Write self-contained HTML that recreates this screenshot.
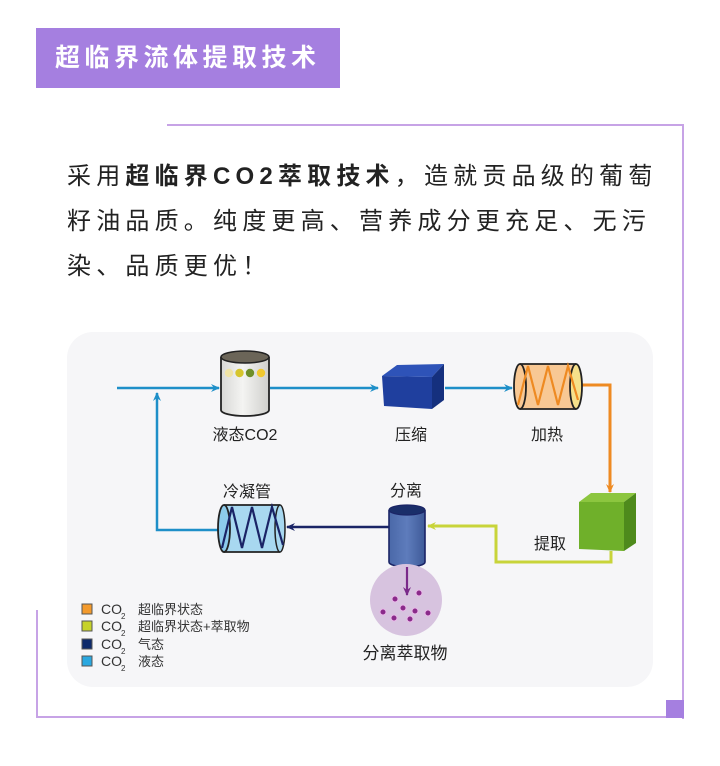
<!DOCTYPE html>
<html><head><meta charset="utf-8">
<style>
html,body{margin:0;padding:0;background:#fff;}
body{width:720px;height:766px;position:relative;overflow:hidden;font-family:"Liberation Sans","Noto Sans CJK SC",sans-serif;}
.title{position:absolute;left:36px;top:28px;width:304px;height:60px;background:#a57fe0;color:#fff;font-weight:bold;font-size:25px;line-height:60px;text-indent:19px;letter-spacing:4.5px;white-space:nowrap;overflow:hidden;}
.ln{position:absolute;background:#c7a3e6;}
.p{position:absolute;left:67px;font-size:24px;color:#222;white-space:nowrap;line-height:30px;}
</style></head><body>
<div class="title">超临界流体提取技术</div>
<div class="ln" style="left:167px;top:124px;width:517px;height:2px;"></div>
<div class="ln" style="left:682px;top:124px;width:2px;height:595px;"></div>
<div class="ln" style="left:36px;top:716px;width:648px;height:2px;"></div>
<div class="ln" style="left:36px;top:610px;width:2px;height:108px;"></div>
<div style="position:absolute;left:666px;top:700px;width:18px;height:18px;background:#a57fe0;"></div>

<div class="p" style="top:162px;letter-spacing:5.2px;">采用<b>超临界CO2萃取技术</b>，造就贡品级的葡萄</div>
<div class="p" style="top:207px;letter-spacing:5.2px;">籽油品质。纯度更高、营养成分更充足、无污</div>
<div class="p" style="top:252px;letter-spacing:5.2px;">染、品质更优！</div>

<svg width="720" height="766" style="position:absolute;left:0;top:0;" xmlns="http://www.w3.org/2000/svg">
<defs>
<linearGradient id="cyl" x1="0" x2="1" y1="0" y2="0">
<stop offset="0" stop-color="#d8d8d6"/><stop offset="0.45" stop-color="#f4f4f2"/><stop offset="1" stop-color="#cfcfcc"/>
</linearGradient>
<linearGradient id="sep" x1="0" x2="1"><stop offset="0" stop-color="#4a68a8"/><stop offset="0.5" stop-color="#5e7cbc"/><stop offset="1" stop-color="#3e5a98"/></linearGradient>
<marker id="ab" markerWidth="10" markerHeight="10" refX="8" refY="5" orient="auto" markerUnits="userSpaceOnUse"><path d="M0,1 L9,5 L0,9 L3,5 Z" fill="#1e8fc8"/></marker>
<marker id="an" markerWidth="10" markerHeight="10" refX="8" refY="5" orient="auto" markerUnits="userSpaceOnUse"><path d="M0,1 L9,5 L0,9 L3,5 Z" fill="#1a2466"/></marker>
<marker id="ao" markerWidth="10" markerHeight="10" refX="8" refY="5" orient="auto" markerUnits="userSpaceOnUse"><path d="M0,1 L9,5 L0,9 L3,5 Z" fill="#ee8a22"/></marker>
<marker id="ay" markerWidth="10" markerHeight="10" refX="8" refY="5" orient="auto" markerUnits="userSpaceOnUse"><path d="M0,1 L9,5 L0,9 L3,5 Z" fill="#c8d43a"/></marker>
<marker id="ap" markerWidth="10" markerHeight="10" refX="8" refY="5" orient="auto" markerUnits="userSpaceOnUse"><path d="M0,1 L9,5 L0,9 L3,5 Z" fill="#7a2a8a"/></marker>
</defs>
<rect x="67" y="332" width="586" height="355" rx="26" fill="#f6f6f8"/>

<!-- blue lines -->
<line x1="117" y1="388" x2="219" y2="388" stroke="#1e8fc8" stroke-width="2.5" marker-end="url(#ab)"/>
<line x1="270" y1="388" x2="378" y2="388" stroke="#1e8fc8" stroke-width="2.5" marker-end="url(#ab)"/>
<line x1="445" y1="388" x2="512" y2="388" stroke="#1e8fc8" stroke-width="2.5" marker-end="url(#ab)"/>
<polyline points="219,530 157,530 157,393" fill="none" stroke="#1e8fc8" stroke-width="2.5" marker-end="url(#ab)"/>

<!-- orange -->
<polyline points="582,385 610,385 610,492" fill="none" stroke="#ee8a22" stroke-width="3" marker-end="url(#ao)"/>
<!-- yellow-green -->
<polyline points="611,551 611,562 496,562 496,526 428,526" fill="none" stroke="#c8d43a" stroke-width="3" marker-end="url(#ay)"/>
<!-- navy -->
<line x1="389" y1="527" x2="287" y2="527" stroke="#1a2466" stroke-width="2.5" marker-end="url(#an)"/>

<!-- liquid CO2 cylinder -->
<path d="M221,357 L221,410 A24,6 0 0 0 269,410 L269,357" fill="url(#cyl)" stroke="#222" stroke-width="1.8"/>
<ellipse cx="245" cy="357" rx="24" ry="6" fill="#6b6558" stroke="#222" stroke-width="1.5"/>
<circle cx="229" cy="373" r="4.2" fill="#efe3a6"/>
<circle cx="239.5" cy="373" r="4.2" fill="#d6c52c"/>
<circle cx="250" cy="373" r="4.2" fill="#6f8f2a"/>
<circle cx="261" cy="373" r="4.2" fill="#f0c830"/>

<!-- compressor box -->
<polygon points="382,376 432,377 432,409 384,406" fill="#1f3f9e"/>
<polygon points="382,376 397,365 444,364 432,377" fill="#2e53b8"/>
<polygon points="432,377 444,364 444,400 432,409" fill="#15307e"/>

<!-- heater -->
<rect x="520" y="364" width="56" height="45" fill="#f8c894"/>
<path d="M520,364 L576,364 M520,409 L576,409" stroke="#222" stroke-width="1.8"/>
<ellipse cx="520" cy="386.5" rx="6" ry="22.5" fill="#f8c894" stroke="#222" stroke-width="1.8"/>
<ellipse cx="576" cy="386.5" rx="6" ry="22.5" fill="#f6e08a" stroke="#222" stroke-width="1.8"/>
<polyline points="518,405 528,366 538,405 548,366 558,405 568,366 578,400" fill="none" stroke="#ee8a22" stroke-width="2.2"/>

<!-- green cube -->
<polygon points="579,502 624,502 624,551 579,549" fill="#6fb02a"/>
<polygon points="579,502 591,493 636,493 624,502" fill="#8cc63f"/>
<polygon points="624,502 636,493 636,543 624,551" fill="#4e8a1c"/>

<!-- separator -->
<path d="M389,510 L389,562 A18,5 0 0 0 425,562 L425,510" fill="url(#sep)" stroke="#1a2466" stroke-width="1.6"/>
<ellipse cx="407" cy="510" rx="18" ry="5" fill="#1a2e6a" stroke="#1a2466" stroke-width="1.2"/>
<!-- purple circle -->
<circle cx="406" cy="600" r="36" fill="#d7c3df"/>
<line x1="407" y1="567" x2="407" y2="595" stroke="#7a2a8a" stroke-width="2.2" marker-end="url(#ap)"/>
<g fill="#8a2a8a" stroke="#e8b8e8" stroke-width="1">
<circle cx="395" cy="599" r="3"/><circle cx="419" cy="593" r="3"/><circle cx="383" cy="612" r="3"/>
<circle cx="403" cy="608" r="3"/><circle cx="415" cy="611" r="3"/><circle cx="428" cy="613" r="3"/>
<circle cx="394" cy="618" r="3"/><circle cx="410" cy="619" r="3"/>
</g>

<!-- condenser -->
<rect x="224" y="505" width="56" height="47" fill="#a8d8f0"/>
<path d="M224,505 L280,505 M224,552 L280,552" stroke="#222" stroke-width="1.8"/>
<ellipse cx="224" cy="528.5" rx="6" ry="23.5" fill="#8ccbeb" stroke="#222" stroke-width="1.8"/>
<ellipse cx="280" cy="528.5" rx="5" ry="23.5" fill="#a8d8f0" stroke="#222" stroke-width="1.5"/>
<polyline points="222,548 232,507 242,548 252,507 262,548 272,507 283,545" fill="none" stroke="#1a2466" stroke-width="2.2"/>

<!-- labels -->
<g font-family="Liberation Sans, Noto Sans CJK SC, sans-serif" font-size="16" fill="#222" text-anchor="middle">
<text x="245" y="440">液态CO2</text>
<text x="411" y="440">压缩</text>
<text x="547" y="440">加热</text>
<text x="247" y="497">冷凝管</text>
<text x="406" y="496">分离</text>
<text x="550" y="549">提取</text>
<text x="405" y="659" font-size="17">分离萃取物</text>
</g>

<!-- legend -->
<g font-family="Liberation Sans, Noto Sans CJK SC, sans-serif" fill="#333">
<rect x="82" y="604" width="10" height="10" fill="#f39a2c" stroke="#555" stroke-width="1"/>
<rect x="82" y="621" width="10" height="10" fill="#c6d22a" stroke="#555" stroke-width="1"/>
<rect x="82" y="639" width="10" height="10" fill="#0d2a6b" stroke="#555" stroke-width="1"/>
<rect x="82" y="656" width="10" height="10" fill="#2aa8e0" stroke="#555" stroke-width="1"/>
<g font-size="14">
<text x="101" y="614">CO</text><text x="101" y="631">CO</text><text x="101" y="649">CO</text><text x="101" y="666">CO</text>
</g>
<g font-size="8">
<text x="121" y="619">2</text><text x="121" y="636">2</text><text x="121" y="654">2</text><text x="121" y="671">2</text>
</g>
<g font-size="13">
<text x="138" y="614">超临界状态</text>
<text x="138" y="631">超临界状态+萃取物</text>
<text x="138" y="649">气态</text>
<text x="138" y="666">液态</text>
</g>
</g>
</svg>
</body></html>
